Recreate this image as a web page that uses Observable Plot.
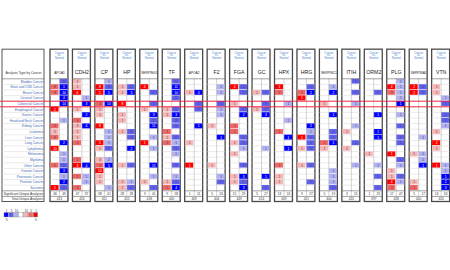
<!DOCTYPE html>
<html><head><meta charset="utf-8">
<script src="https://cdn.jsdelivr.net/npm/d3@7"></script>
<script src="https://cdn.jsdelivr.net/npm/@observablehq/plot@0.6"></script>
<style>body{margin:0;background:#fff}svg{display:block}</style>
</head><body><div id="chart"></div>
<script>
const genes = ["APOA1","CDH2","CP","HP","SERPING1","TF","APOA2","F2","FGA","GC","HPX","HRG","SERPINC1","ITIH","ORM2","PLG","SERPINA1","VTN"];
const cancers = ["Bladder Cancer","Brain and CNS Cancer","Breast Cancer","Cervical Cancer","Colorectal Cancer","Esophageal Cancer","Gastric Cancer","Head and Neck Cancer","Kidney Cancer","Leukemia","Liver Cancer","Lung Cancer","Lymphoma","Melanoma","Myeloma","Other Cancer","Ovarian Cancer","Pancreatic Cancer","Prostate Cancer","Sarcoma"];
const sigOver  = [46,47,38,28,9,9,1,5,15,5,13,9,5,3,1,17,5,16];
const sigUnder = [49,37,41,28,41,58,11,26,29,27,16,27,19,15,23,47,17,34];
const totals   = [413,416,451,415,418,440,409,404,449,414,409,421,404,420,397,428,400,420];
const highlightRow = "Colorectal Cancer";
const legendLabels = ["1","5","10","","10","5","1"];
const legendKeys = ["u3","u2","u1","none","o1","o2","o3"];
// [gene index, cancer row, side (o = over, u = under), level 1..3, count]
const cells = [
[0,0,"u",2,1],[0,1,"o",2,8],[0,1,"u",3,1],[0,2,"o",2,8],[0,2,"u",3,10],[0,3,"u",3,4],[0,4,"u",3,14],[0,5,"o",3,2],[0,7,"u",1,1],[0,8,"o",2,6],[0,9,"o",1,5],[0,10,"o",2,6],[0,11,"u",3,2],[0,12,"o",3,10],[0,13,"u",1,1],[0,14,"u",1,1],[0,15,"o",2,5],[0,15,"u",2,5],[0,16,"u",3,3],[0,17,"u",1,1],[0,18,"u",3,2],[0,19,"o",3,5],[0,19,"u",2,5],
[1,0,"o",1,2],[1,1,"o",1,1],[1,2,"o",3,6],[1,3,"u",1,1],[1,4,"u",3,3],[1,5,"o",1,1],[1,6,"u",3,2],[1,7,"o",2,4],[1,8,"o",1,3],[1,8,"u",3,4],[1,9,"o",1,1],[1,10,"o",1,1],[1,11,"o",2,2],[1,14,"o",2,2],[1,15,"o",3,3],[1,15,"u",3,4],[1,17,"o",2,2],[1,17,"u",1,1],[1,18,"u",1,1],[1,19,"o",2,3],
[2,0,"u",1,1],[2,1,"o",3,8],[2,1,"u",2,5],[2,2,"o",3,5],[2,2,"u",3,5],[2,4,"o",2,4],[2,4,"u",3,10],[2,5,"o",1,1],[2,6,"o",1,1],[2,8,"o",3,8],[2,9,"u",1,1],[2,10,"u",1,1],[2,11,"o",3,5],[2,11,"u",1,1],[2,12,"o",1,1],[2,12,"u",2,2],[2,14,"o",1,3],[2,14,"u",1,2],[2,15,"o",2,3],[2,15,"u",3,5],[2,16,"o",3,10],[2,17,"o",1,1],[2,18,"o",1,1],[2,19,"u",1,1],
[3,1,"o",1,1],[3,1,"u",2,2],[3,2,"o",1,1],[3,2,"u",3,3],[3,4,"o",3,8],[3,6,"o",1,1],[3,7,"o",1,1],[3,9,"o",1,1],[3,9,"u",2,8],[3,10,"u",2,4],[3,12,"u",3,2],[3,15,"o",1,1],[3,15,"u",2,2],[3,18,"o",1,1],[3,18,"u",1,1],[3,19,"o",1,1],[3,19,"u",2,5],
[4,1,"o",3,4],[4,2,"u",2,1],[4,4,"u",2,1],[4,5,"o",1,1],[4,6,"u",3,3],[4,7,"u",2,2],[4,8,"u",3,11],[4,10,"u",1,1],[4,11,"o",3,1],[4,12,"u",1,1],[4,15,"u",3,11],[4,17,"u",1,1],[4,18,"o",1,1],[4,19,"u",2,7],
[5,0,"u",2,1],[5,1,"u",3,11],[5,2,"u",3,10],[5,3,"u",2,1],[5,5,"o",1,1],[5,5,"u",2,1],[5,6,"o",1,1],[5,6,"u",3,3],[5,7,"u",2,2],[5,8,"u",2,1],[5,9,"o",2,1],[5,10,"o",1,1],[5,10,"u",2,1],[5,11,"o",2,3],[5,11,"u",1,1],[5,12,"u",2,1],[5,13,"u",1,1],[5,15,"u",2,2],[5,17,"u",1,1],[5,18,"o",1,1],[5,18,"u",2,2],[5,19,"o",2,5],[5,19,"u",3,4],
[6,2,"o",1,1],[6,2,"u",3,3],[6,4,"u",2,1],[6,5,"u",2,1],[6,8,"u",3,1],[6,11,"o",1,1],[6,15,"o",3,1],
[7,1,"u",1,1],[7,2,"u",1,1],[7,4,"u",2,1],[7,5,"u",1,1],[7,6,"u",1,1],[7,8,"o",1,1],[7,10,"u",3,1],[7,15,"o",1,1],[7,17,"u",1,1],[7,18,"u",2,2],
[8,1,"o",3,4],[8,1,"u",2,2],[8,2,"u",2,2],[8,4,"o",1,1],[8,5,"u",2,1],[8,6,"u",3,2],[8,8,"o",2,2],[8,9,"o",2,1],[8,10,"u",2,2],[8,11,"o",1,1],[8,11,"u",2,1],[8,12,"u",1,1],[8,13,"o",1,1],[8,15,"u",2,1],[8,17,"o",1,1],[8,17,"u",3,3],[8,18,"o",1,1],[8,18,"u",2,2],[8,19,"u",3,3],
[9,2,"o",1,1],[9,2,"u",2,1],[9,4,"u",2,1],[9,5,"o",1,1],[9,5,"u",2,2],[9,6,"u",3,3],[9,12,"u",1,1],[9,17,"u",3,1],[9,19,"u",2,1],
[10,1,"o",3,1],[10,2,"o",2,1],[10,4,"u",1,1],[10,7,"u",1,1],[10,9,"o",2,1],[10,10,"u",3,1],[10,12,"u",3,1],[10,15,"o",2,1],[10,17,"o",1,1],[10,18,"o",1,1],
[11,1,"u",2,1],[11,2,"o",2,1],[11,2,"u",3,2],[11,3,"o",3,1],[11,8,"u",3,2],[11,9,"u",1,1],[11,10,"o",3,1],[11,10,"u",2,1],[11,11,"u",2,1],[11,12,"o",1,1],[11,12,"u",2,1],[11,15,"o",1,1],[11,15,"u",2,2],[11,18,"u",2,1],
[12,1,"u",1,1],[12,2,"u",3,2],[12,4,"o",1,1],[12,6,"u",3,1],[12,9,"u",2,1],[12,10,"u",2,1],[12,11,"o",2,1],[12,11,"u",3,1],[12,12,"o",1,1],[12,16,"u",1,1],[12,17,"u",1,1],[12,18,"u",1,1],[12,19,"u",2,1],
[13,0,"u",2,1],[13,2,"u",2,1],[13,4,"u",1,1],[13,8,"u",1,1],[13,9,"o",1,1],[13,11,"u",2,1],[13,12,"o",1,1],[13,15,"u",1,1],
[14,2,"u",2,1],[14,6,"u",3,1],[14,9,"u",3,1],[14,10,"u",3,1],[14,13,"o",1,1],[14,15,"u",1,1],[14,17,"u",2,1],[14,19,"u",2,1],
[15,0,"u",1,1],[15,1,"o",3,4],[15,1,"u",1,1],[15,2,"o",2,3],[15,2,"u",1,1],[15,3,"u",1,1],[15,4,"u",3,1],[15,6,"u",1,1],[15,8,"u",2,1],[15,10,"u",2,2],[15,11,"u",2,1],[15,13,"o",3,1],[15,14,"u",2,1],[15,15,"u",1,1],[15,16,"o",1,1],[15,17,"o",1,1],[15,17,"u",2,1],[15,18,"o",3,4],[15,18,"u",1,1],[15,19,"o",2,3],
[16,1,"o",3,2],[16,1,"u",2,1],[16,2,"o",3,2],[16,2,"u",2,1],[16,10,"u",1,1],[16,13,"o",1,1],[16,13,"u",1,1],[16,14,"u",1,1],[16,15,"u",3,1],[16,18,"o",1,1],[16,19,"o",2,1],
[17,1,"o",1,1],[17,2,"o",1,1],[17,3,"u",1,1],[17,4,"u",2,1],[17,6,"u",2,1],[17,7,"u",2,1],[17,8,"u",1,1],[17,9,"o",1,1],[17,11,"o",3,2],[17,12,"o",1,1],[17,15,"o",3,1],[17,15,"u",1,1],[17,16,"u",1,1],[17,17,"u",3,1],[17,18,"u",3,2],[17,19,"u",3,3]
];

// ---- layout in data units: x = gene slot, y = row ----
const W = 450, H = 270;
const SLOT = 22.45, X0 = 50, ROW = 5.6, Y0 = 78.3;
const BOXW = 0.8, HALF = 0.4;
const HEAD = -5.2;
const nR = cancers.length;
const SIG = nR, TOT = nR + 1, END = nR + 2;
const PANEL_X1 = (2 - X0) / SLOT, PANEL_X2 = (44 - X0) / SLOT, LABEL_X = (42.5 - X0) / SLOT;

const boxes = genes.map((g, i) => ({g, i, x1: i, x2: i + BOXW}));
const cellData = cells.map(([g, r, s, lv, n]) => ({
  x1: g + (s === "o" ? 0 : HALF) + 0.02, x2: g + (s === "o" ? HALF : BOXW) - 0.02,
  y1: r + 0.06, y2: r + 0.94, key: s + lv, n, lv, xc: g + (s === "o" ? HALF / 2 : HALF * 1.5), yc: r + 0.5
}));
const grid = [];
for (const b of boxes) for (let r = 1; r < nR; r++) grid.push({x1: b.x1, x2: b.x2, y: r});
for (let r = 1; r < nR; r++) grid.push({x1: PANEL_X1, x2: PANEL_X2, y: r});
const darkLines = [];
for (const b of boxes) for (const y of [0, SIG, TOT]) darkLines.push({x1: b.x1, x2: b.x2, y});
for (const y of [0, SIG, TOT]) darkLines.push({x1: PANEL_X1, x2: PANEL_X2, y});

const colorKeys = ["o1","o2","o3","u1","u2","u3","none"];
const colorRange = ["#f7b6b6","#f06565","#ff0000","#b0b0f4","#5f5fee","#0000ff","#ffffff"];
const hr = cancers.indexOf(highlightRow);
const LEG_Y = (212.5 - Y0) / ROW;
const legend = legendKeys.map((k, j) => ({k, j, x1: (4 - X0) / SLOT + j * 0.218, lab: legendLabels[j]}));

const font = "Liberation Sans, Arial, sans-serif";
const plot = Plot.plot({
  width: W, height: H, margin: 0,
  x: {type: "linear", domain: [-X0 / SLOT, (W - X0) / SLOT], range: [0, W], axis: null},
  y: {type: "linear", domain: [-Y0 / ROW, (H - Y0) / ROW], range: [0, H], axis: null},
  color: {type: "ordinal", domain: colorKeys, range: colorRange},
  style: {fontFamily: font, background: "white"},
  marks: [
    Plot.rect([0], {x1: PANEL_X1, x2: PANEL_X2, y1: HEAD, y2: END, fill: "white", stroke: "#555", strokeWidth: 1}),
    Plot.rect(boxes, {x1: "x1", x2: "x2", y1: HEAD, y2: END, fill: "white", stroke: "#4a4a4a", strokeWidth: 1.3}),
    Plot.ruleY(grid, {x1: "x1", x2: "x2", y: "y", stroke: "#d6d6d6", strokeWidth: 0.5}),
    Plot.rect(cellData, {x1: "x1", x2: "x2", y1: "y1", y2: "y2", fill: "key"}),
    Plot.ruleX(boxes, {x: d => d.i + HALF, y1: 0, y2: TOT, stroke: "#b5b5b5", strokeWidth: 0.6}),
    Plot.ruleY(darkLines, {x1: "x1", x2: "x2", y: "y", stroke: "#777", strokeWidth: 0.7}),
    Plot.text(cellData, {x: "xc", y: "yc", text: "n", fontSize: 3.3, fill: d => d.lv === 3 ? "#fff" : "#444"}),
    Plot.text(boxes, {x: d => d.i + HALF, y: HEAD + 0.6, text: () => "Cancer", fontSize: 2.8, fill: "#4a84d6"}),
    Plot.text(boxes, {x: d => d.i + HALF, y: HEAD + 1.05, text: () => "vs.", fontSize: 2.8, fill: "#4a84d6"}),
    Plot.text(boxes, {x: d => d.i + HALF, y: HEAD + 1.5, text: () => "Normal", fontSize: 2.8, fill: "#4a84d6"}),
    Plot.text(boxes, {x: d => d.i + HALF, y: -1.1, text: "g", fontSize: d => d.g.length > 4 ? 3.2 : 5.2, fill: "#222"}),
    Plot.text([0], {x: (PANEL_X1 + PANEL_X2) / 2, y: -1.1, text: () => "Analysis Type by Cancer", fontSize: 3.3, fill: "#333"}),
    Plot.text(cancers, {x: LABEL_X, y: (d, r) => r + 0.5, text: d => d, textAnchor: "end", fontSize: 3.2, fill: "#3a68b8"}),
    Plot.text(["Significant Unique Analyses","Total Unique Analyses"], {x: LABEL_X, y: (d, r) => SIG + r + 0.5, text: d => d, textAnchor: "end", fontSize: 3.2, fill: "#333"}),
    Plot.text(boxes, {x: d => d.i + HALF / 2, y: SIG + 0.5, text: d => sigOver[d.i], fontSize: 3.2, fill: "#333"}),
    Plot.text(boxes, {x: d => d.i + HALF * 1.5, y: SIG + 0.5, text: d => sigUnder[d.i], fontSize: 3.2, fill: "#333"}),
    Plot.text(boxes, {x: d => d.i + HALF, y: TOT + 0.5, text: d => totals[d.i], fontSize: 3.2, fill: "#333"}),
    Plot.ruleY([hr, hr + 1], {x1: -X0 / SLOT, x2: (W - X0) / SLOT, stroke: "#ee1133", strokeWidth: 1, strokeOpacity: 0.85}),
    Plot.rect(legend, {x1: "x1", x2: d => d.x1 + 0.19, y1: LEG_Y, y2: LEG_Y + 0.8, fill: "k", stroke: "#888", strokeWidth: 0.4}),
    Plot.text(legend, {x: d => d.x1 + 0.095, y: LEG_Y - 0.4, text: "lab", fontSize: 3, fill: "#333"}),
    Plot.text([legend[0], legend[6]], {x: d => d.x1 + 0.095, y: LEG_Y + 1.25, text: () => "%", fontSize: 2.6, fill: "#333"})
  ]
});
document.getElementById("chart").appendChild(plot);
</script>
</body></html>
